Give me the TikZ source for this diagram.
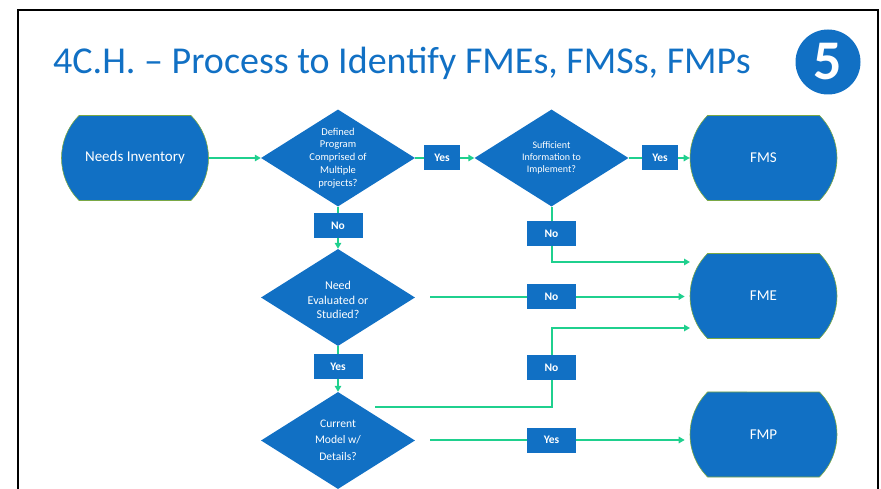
\documentclass[tikz,border=0pt]{standalone}
\usepackage{fontspec}
\setmainfont{Carlito}
\usetikzlibrary{shapes.geometric, shapes.misc, arrows.meta}

\definecolor{flowblue}{HTML}{1170C4}
\definecolor{flowgreen}{HTML}{1FD08E}
\definecolor{rimgreen}{HTML}{7AA845}

\tikzset{
	terminal/.style = {rounded rectangle, rounded rectangle arc length = 90, fill = flowblue, draw = rimgreen, line width = 0.6pt, minimum width = 147pt, minimum height = 85pt, inner sep = 0pt, text = white, font = \fontsize{15}{18}\selectfont},
	decision/.style = {diamond, fill = flowblue, minimum width = 154pt, minimum height = 97pt, inner sep = 0pt},
	dtext/.style = {text = white, align = center, inner sep = 0pt},
	answer/.style = {fill = flowblue, text = white, font = \fontsize{11.5}{13}\selectfont\bfseries, minimum height = 25pt, inner sep = 0pt},
	flow/.style = {flowgreen, line width = 2pt},
	flowarrow/.style = {flow, -{Triangle[length = 6pt, width = 6.5pt]}}
}

\begin{document}
\begin{tikzpicture}[x = 1pt, y = -1pt]
	%	page setup
	
	\def\xleft{338}
	\def\xright{551.5}
	\def\xend{763.5}
	
	\useasboundingbox (0, 0) rectangle (881, 489);
	
	%	frame and heading
	\draw[line width = 2pt] (18.3, 489) |- (877.5, 10.3) -- (877.5, 489);
	\node[anchor = base west, inner sep = 0pt, text = flowblue, font = \fontsize{38}{40}\selectfont] (title) at (53, 74) {4C.H. – Process to Identify FMEs, FMSs, FMPs};
	\node[circle, fill = flowblue, minimum size = 65pt, inner sep = 0pt, text = white, font = \fontsize{56}{56}\selectfont\bfseries] (stepno) at (828, 62) {5};
	
	%	shapes
	\node[terminal] (needs) at (135, 158) {Needs Inventory};
	\node[decision] (multi) at (\xleft, 158) {};
	\node[dtext, font = \fontsize{10.5}{12.8}\selectfont] (multitext) at (multi) {Defined\\Program\\Comprised of\\Multiple\\projects?};
	\node[decision] (info) at (\xright, 158) {};
	\node[dtext, font = \fontsize{10}{12.3}\selectfont] (infotext) at (info) {Sufficient\\Information to\\Implement?};
	\node[decision] (study) at (\xleft, 297.5) {};
	\node[dtext, font = \fontsize{12}{14.5}\selectfont] (studytext) at (\xleft, 300) {Need\\Evaluated or\\Studied?};
	\node[decision] (model) at (\xleft, 440.5) {};
	\node[dtext, font = \fontsize{11.6}{16.5}\selectfont] (modeltext) at (\xleft, 440) {Current\\Model w/\\Details?};
	
	\node[terminal] (fms) at (\xend, 158) {FMS};
	\node[terminal] (fme) at (\xend, 296) {FME};
	\node[terminal] (fmp) at (\xend, 434.5) {FMP};
	
	%	answers
	\node[answer, minimum width = 36pt] (yes1) at (442, 158) {Yes};
	\node[answer, minimum width = 36pt] (yes2) at (660, 158) {Yes};
	\node[answer, minimum width = 49pt] (no1) at (\xleft, 225.5) {No};
	\node[answer, minimum width = 49pt] (no2) at (\xright, 233.5) {No};
	\node[answer, minimum width = 49pt] (no3) at (\xright, 296.5) {No};
	\node[answer, minimum width = 49pt] (yes3) at (\xleft, 366.5) {Yes};
	\node[answer, minimum width = 49pt] (no4) at (\xright, 367.5) {No};
	\node[answer, minimum width = 49pt] (yes4) at (\xright, 440) {Yes};
	
	\coordinate (fmetop) at (690, 262);
	\coordinate (fmelow) at (690, 328);
	\coordinate (modelout) at (375, 407);
	
	%	connectors
	\draw[flowarrow] (needs.east) -- (multi.west);
	\draw[flow] (multi.east) -- (yes1.west);
	\draw[flowarrow] (yes1.east) -- (info.west);
	\draw[flow] (info.east) -- (yes2.west);
	\draw[flowarrow] (yes2.east) -- (fms.west);
	\draw[flow] (multi.south) -- (no1.north);
	\draw[flowarrow] (no1.south) -- (study.north);
	\draw[flow] (info.south) -- (no2.north);
	\draw[flowarrow] (no2.south) |- (fmetop);
	\draw[flow, shorten < = 15pt] (study.east |- no3) -- (no3.west);
	\draw[flowarrow, shorten > = 5pt] (no3.east) -- (no3.east -| fme.west);
	\draw[flow] (study.south) -- (yes3.north);
	\draw[flowarrow] (yes3.south) -- (model.north);
	\draw[flow] (modelout) -| (no4.south);
	\draw[flowarrow] (no4.north) |- (fmelow);
	\draw[flow, shorten < = 15pt] (model.east |- yes4) -- (yes4.west);
	\draw[flowarrow, shorten > = 5pt] (yes4.east) -- (yes4.east -| fmp.west);
\end{tikzpicture}
\end{document}
